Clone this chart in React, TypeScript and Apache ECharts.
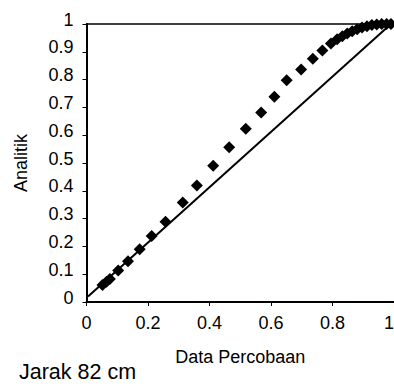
import React, { useEffect, useRef } from "react";
import * as echarts from "echarts";

const xData = [0.052, 0.065, 0.076, 0.103, 0.135, 0.173, 0.212, 0.257, 0.313, 0.359, 0.412, 0.464, 0.518, 0.568, 0.611, 0.651, 0.698, 0.736, 0.767, 0.795, 0.815, 0.832, 0.848, 0.864, 0.88, 0.896, 0.912, 0.928, 0.944, 0.96, 0.976, 0.99];
const yData = [0.061, 0.073, 0.083, 0.113, 0.147, 0.19, 0.237, 0.289, 0.358, 0.419, 0.49, 0.557, 0.623, 0.682, 0.738, 0.798, 0.836, 0.875, 0.905, 0.93, 0.945, 0.956, 0.966, 0.974, 0.981, 0.987, 0.992, 0.996, 0.998, 1.0, 1.0, 1.0];
const lineX = [0.005, 0.99];
const lineY = [0.02, 1.0];

const title = "Jarak 82 cm";
const xName = "Data Percobaan";
const yName = "Analitik";

export default function App() {
  const ref = useRef<HTMLDivElement>(null);
  useEffect(() => {
    if (!ref.current) return;
    const chart = echarts.init(ref.current, null, { renderer: "svg" });
    const font = "'Liberation Sans', Arial, sans-serif";
    chart.setOption({
      animation: false,
      backgroundColor: "#fff",
      textStyle: { fontFamily: font, color: "#000" },
      title: {
        text: title,
        left: 14,
        top: 356,
        textStyle: { fontFamily: font, fontSize: 21.5, fontWeight: "normal", color: "#000" },
      },
      grid: { left: 86.5, top: 24, right: 0, bottom: 86, containLabel: false, outerBoundsMode: "none" },
      xAxis: [
        {
          type: "value",
          min: 0,
          max: 1,
          interval: 0.2,
          name: xName,
          nameLocation: "middle",
          nameGap: 46,
          nameTextStyle: { fontFamily: font, fontSize: 18, color: "#000" },
          axisLine: { show: true, onZero: false, lineStyle: { color: "#000", width: 2 } },
          axisTick: { show: true, inside: false, length: 4, lineStyle: { color: "#000", width: 1 } },
          axisLabel: { fontFamily: font, fontSize: 18, color: "#000", margin: 12, hideOverlap: false, alignMaxLabel: "right" },
          splitLine: { show: false },
        },
        {
          type: "value",
          position: "top",
          min: 0,
          max: 1,
          axisLine: { show: true, onZero: false, lineStyle: { color: "#000", width: 1.5 } },
          axisTick: { show: false },
          axisLabel: { show: false },
          splitLine: { show: false },
        },
      ],
      yAxis: {
        type: "value",
        min: 0,
        max: 1,
        interval: 0.1,
        name: yName,
        nameLocation: "middle",
        nameRotate: 90,
        nameGap: 57,
        nameTextStyle: { fontFamily: font, fontSize: 18, color: "#000" },
        axisLine: { show: true, onZero: false, lineStyle: { color: "#000", width: 2 } },
        axisTick: { show: true, inside: false, length: 4, lineStyle: { color: "#000", width: 1 } },
        axisLabel: { fontFamily: font, fontSize: 18, color: "#000", margin: 13, verticalAlign: "bottom", lineHeight: 9 },
        splitLine: { show: false },
      },
      series: [
        {
          type: "line",
          data: lineX.map((x, i) => [x, lineY[i]]),
          showSymbol: false,
          symbol: "none",
          lineStyle: { color: "#000", width: 2 },
          silent: true,
          z: 2,
        },
        {
          type: "scatter",
          data: xData.map((x, i) => [x, yData[i]]),
          symbol: "diamond",
          symbolSize: 12,
          itemStyle: { color: "#000", opacity: 1 },
          z: 3,
        },
      ],
    });
    return () => chart.dispose();
  }, []);
  return (
    <div
      ref={ref}
      style={{ position: "fixed", left: 0, top: 0, width: 394, height: 388, background: "#fff" }}
    />
  );
}
